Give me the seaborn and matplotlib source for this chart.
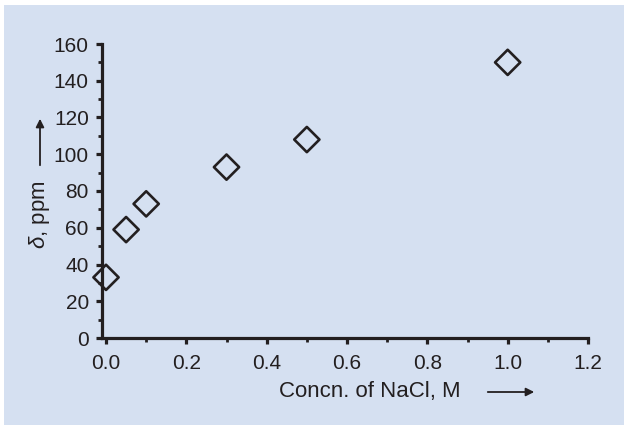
import numpy as np
import pandas as pd
import seaborn as sns
import matplotlib.pyplot as plt
from matplotlib.patches import Rectangle
from matplotlib.ticker import MultipleLocator

# NaCl concentration (M) vs chemical shift (ppm)
conc = [0.0, 0.05, 0.1, 0.3, 0.5, 1.0]
shift = [33, 59, 73, 93, 108, 150]

x_ticks = [0.0, 0.2, 0.4, 0.6, 0.8, 1.0, 1.2]
y_ticks = [0, 20, 40, 60, 80, 100, 120, 140, 160]

df = pd.DataFrame({'conc': conc, 'shift': shift})

sns.set_style('white')
plt.rcParams['font.family'] = ['Liberation Sans', 'DejaVu Sans']
plt.rcParams['mathtext.fontset'] = 'custom'
plt.rcParams['mathtext.it'] = 'Liberation Sans:italic'
plt.rcParams['mathtext.rm'] = 'Liberation Sans'

ink = '#231f20'
panel = '#d5e0f1'
W, H = 624, 425

fig = plt.figure(figsize=(6.24, 4.25), dpi=100)
fig.patch.set_facecolor('white')
# light blue panel with thin white margin on the top/left
fig.patches.append(Rectangle((4 / W, 0), 1 - 4 / W, 1 - 5 / H, transform=fig.transFigure,
                             facecolor=panel, edgecolor='none', zorder=-10))

ax = fig.add_axes([102 / W, 87 / H, 486 / W, 294 / H])
ax.set_facecolor('none')

sns.scatterplot(data=df, x='conc', y='shift', ax=ax, marker='D', s=165,
                facecolor='none', edgecolor=ink, linewidth=1.9, clip_on=False, zorder=5)

ax.set_xlim(-0.01, 1.2)
ax.set_ylim(0, 160)
ax.set_xticks(x_ticks)
ax.set_yticks(y_ticks)
ax.set_xticklabels([f'{v:.1f}' for v in x_ticks])
ax.set_yticklabels([str(v) for v in y_ticks])
ax.xaxis.set_minor_locator(MultipleLocator(0.1))
ax.yaxis.set_minor_locator(MultipleLocator(10))

for side in ['top', 'right']:
    ax.spines[side].set_visible(False)
for side in ['left', 'bottom']:
    ax.spines[side].set_linewidth(2.3)
    ax.spines[side].set_color(ink)

ax.tick_params(which='major', direction='out', length=4.5, width=2.3, color=ink,
               labelsize=15, labelcolor=ink, left=True, bottom=True)
ax.tick_params(which='minor', direction='out', length=3, width=2.0, color=ink,
               left=True, bottom=True)
ax.tick_params(axis='x', which='major', pad=7)
ax.tick_params(axis='y', which='major', pad=5)
ax.set_xlabel('')
ax.set_ylabel('')

# axis labels with arrows
fig.text(370 / W, 1 - 392 / H, 'Concn. of NaCl, M', fontsize=16, color=ink,
         ha='center', va='center')
fig.text(40 / W, 1 - 215 / H, r'$\delta$, ppm', fontsize=16, color=ink,
         ha='center', va='center', rotation=90)
arrow = dict(arrowstyle='-|>', color=ink, lw=1.3, mutation_scale=12)
ax.annotate('', xy=(537 / W, 1 - 392 / H), xytext=(485 / W, 1 - 392 / H),
            xycoords='figure fraction', textcoords='figure fraction', arrowprops=arrow)
ax.annotate('', xy=(40 / W, 1 - 116 / H), xytext=(40 / W, 1 - 168 / H),
            xycoords='figure fraction', textcoords='figure fraction', arrowprops=arrow)

fig.savefig('out.png', dpi=100, facecolor=fig.get_facecolor())
